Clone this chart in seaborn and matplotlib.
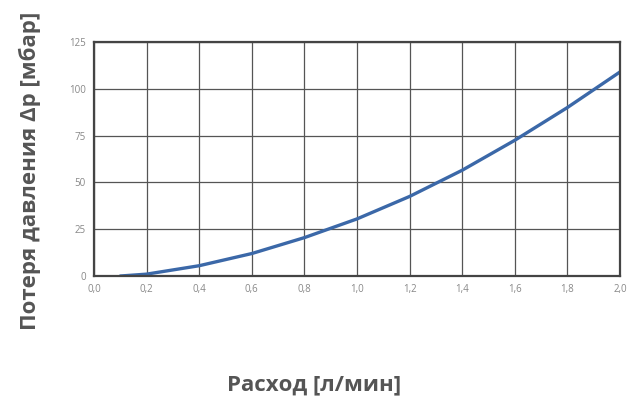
import matplotlib
matplotlib.use("Agg")
import matplotlib.pyplot as plt
import seaborn as sns
import pandas as pd

# Flow rate [l/min] and pressure loss [mbar]
flow = [0.1, 0.2, 0.4, 0.6, 0.8, 1.0, 1.2, 1.4, 1.6, 1.8, 2.0]
dp = [0.0, 1.0, 5.5, 12.0, 20.5, 30.5, 42.5, 56.5, 72.5, 90.0, 109.0]

x_ticks = [0.0, 0.2, 0.4, 0.6, 0.8, 1.0, 1.2, 1.4, 1.6, 1.8, 2.0]
x_tick_labels = ["0,0", "0,2", "0,4", "0,6", "0,8", "1,0", "1,2", "1,4", "1,6", "1,8", "2,0"]
y_ticks = [0, 25, 50, 75, 100, 125]

sns.set_theme(style="white")
plt.rcParams["font.family"] = ["Open Sans", "DejaVu Sans"]

df = pd.DataFrame({"flow": flow, "dp": dp})

fig = plt.figure(figsize=(6.29, 3.98), dpi=100)
ax = fig.add_axes([0.1494, 0.3065, 0.8363, 0.588])

sns.lineplot(data=df, x="flow", y="dp", ax=ax, color="#3b68a8", linewidth=2.4)

ax.set_xlim(0, 2.0)
ax.set_ylim(0, 125)
ax.set_xticks(x_ticks)
ax.set_xticklabels(x_tick_labels)
ax.set_yticks(y_ticks)
ax.grid(True, color="#555555", linewidth=0.9)
ax.set_axisbelow(True)
for s in ax.spines.values():
    s.set_color("#444444")
    s.set_linewidth(1.6)

ax.tick_params(axis="both", labelsize=7, colors="#888888", length=0, pad=6)
ax.tick_params(axis="y", length=3, width=0.8, color="#777777", pad=3)

ax.set_xlabel("")
ax.set_ylabel("")
fig.text(0.5, 0.033, "Расход [л/мин]", fontsize=16, fontweight="bold",
         color="#555555", ha="center", va="center")
fig.text(0.048, 0.57, "Потеря давления Δp [мбар]", fontsize=16, fontweight="bold",
         color="#555555", ha="center", va="center", rotation=90)

fig.savefig("out.png", dpi=100)
